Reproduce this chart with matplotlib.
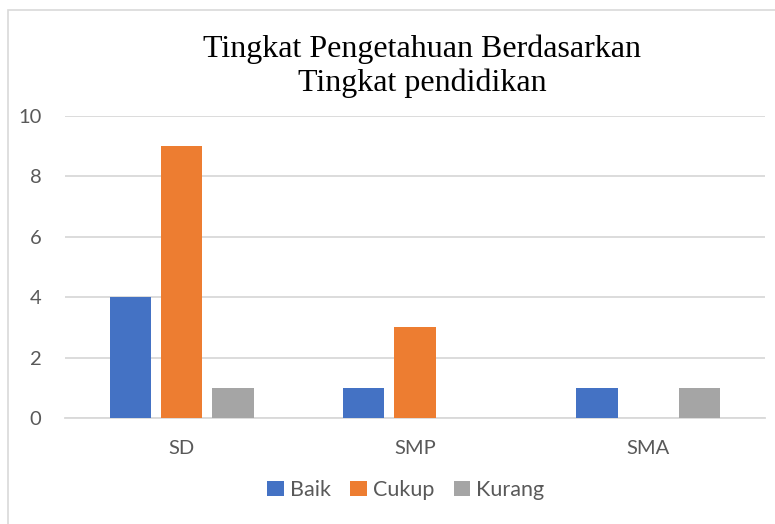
import matplotlib
matplotlib.use('Agg')
import matplotlib.pyplot as plt
import numpy as np
from matplotlib.patches import Rectangle

categories = ['SD', 'SMP', 'SMA']
series_names = ['Baik', 'Cukup', 'Kurang']
baik = [4, 1, 1]
cukup = [9, 3, 0]
kurang = [1, 0, 1]
colors = ['#4472C4', '#ED7D31', '#A5A5A5']

W, H = 775, 524
fig = plt.figure(figsize=(W / 100, H / 100), dpi=100)

# light border around the chart area
fig.patches.append(Rectangle((8 / W, -0.05), 1.2, 1 - 10 / H + 0.05,
                             transform=fig.transFigure, fill=False,
                             edgecolor='#d9d9d9', linewidth=1.2))

ax = fig.add_axes([65 / W, (H - 418) / H, 700 / W, 302 / H])

x = np.arange(len(categories))
width = 0.176
offset = 0.22
for i, (vals, name) in enumerate(zip([baik, cukup, kurang], series_names)):
    ax.bar(x + (i - 1) * offset, vals, width, color=colors[i], label=name, zorder=3)

ax.set_xlim(-0.5, 2.5)
ax.set_ylim(0, 10)
ax.set_yticks(range(0, 11, 2))
ax.grid(axis='y', color='#d9d9d9', linewidth=1.3, zorder=0)
ax.set_axisbelow(True)
for side in ['top', 'right', 'left']:
    ax.spines[side].set_visible(False)
ax.spines['bottom'].set_color('#d9d9d9')
ax.spines['bottom'].set_linewidth(1.3)
ax.tick_params(axis='both', length=0, labelsize=14.5, labelcolor='#595959')
ax.tick_params(axis='y', pad=17)
ax.tick_params(axis='x', pad=16)
ax.set_xticks(x)
ax.set_xticklabels(categories)
for lab in ax.get_xticklabels() + ax.get_yticklabels():
    lab.set_fontfamily('Lato')

fig.text(422 / W, 1 - 66 / H, 'Tingkat Pengetahuan Berdasarkan\nTingkat pendidikan',
         ha='center', va='center', fontsize=23, family='Liberation Serif',
         linespacing=1.2)

leg = fig.legend(loc='center', bbox_to_anchor=(406 / W, 1 - 490 / H), ncol=3,
                 frameon=False, handlelength=0.75, handleheight=0.75,
                 handletextpad=0.3, columnspacing=0.9, prop={'family': 'Lato', 'size': 15.5})
for t in leg.get_texts():
    t.set_color('#595959')

fig.savefig('out.png', dpi=100)
